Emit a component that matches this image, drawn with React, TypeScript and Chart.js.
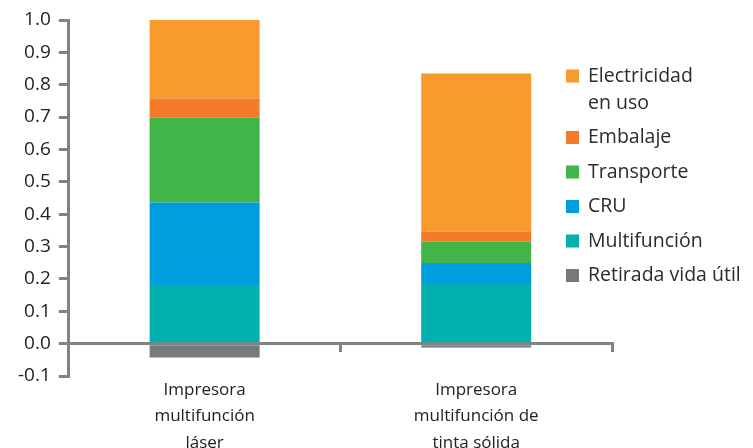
import React, { useEffect, useRef } from "react";
import { Chart, registerables } from "chart.js";

Chart.register(...registerables);

const categories = [
  ["Impresora", "multifunción", "láser"],
  ["Impresora", "multifunción de", "tinta sólida"],
];
const seriesNames = ["Retirada vida útil", "Multifunción", "CRU", "Transporte", "Embalaje", "Electricidad en uso"];
const legendLines = [["Retirada vida útil"], ["Multifunción"], ["CRU"], ["Transporte"], ["Embalaje"], ["Electricidad", "en uso"]];
const retirada = [-0.043, -0.012];
const multifuncion = [0.181, 0.187];
const cru = [0.255, 0.062];
const transporte = [0.262, 0.066];
const embalaje = [0.059, 0.031];
const electricidad = [0.246, 0.489];
const seriesColors = ["#767a7b", "#00b1b0", "#009ddf", "#42b549", "#f47b29", "#f89a2e"];
const yTickValues = [-0.1, 0, 0.1, 0.2, 0.3, 0.4, 0.5, 0.6, 0.7, 0.8, 0.9, 1.0];

const FONT = "'Open Sans', 'Noto Sans', sans-serif";
const AXIS = "#808383";

const legendPlugin = {
  id: "sideLegend",
  afterDraw(chart: any) {
    const ctx = chart.ctx;
    const area = chart.chartArea;
    const x0 = area.right - 46;
    let y = area.top + 56;
    ctx.save();
    ctx.font = `19.5px ${FONT}`;
    ctx.textBaseline = "middle";
    ctx.textAlign = "left";
    const n = chart.data.datasets.length;
    for (let i = n - 1; i >= 0; i--) {
      const ds = chart.data.datasets[i];
      const lines = legendLines[i];
      ctx.fillStyle = ds.backgroundColor;
      ctx.fillRect(x0, y - 6.5, 13, 13);
      ctx.fillStyle = "#2b2b2b";
      lines.forEach((t: string, k: number) => {
        ctx.fillText(t, x0 + 22, y + k * 27);
      });
      y += (lines.length - 1) * 27 + 34.5;
    }
    ctx.restore();
  },
};

export default function App() {
  const ref = useRef<HTMLCanvasElement>(null);
  useEffect(() => {
    if (!ref.current) return;
    const values = [retirada, multifuncion, cru, transporte, embalaje, electricidad];
    const chart = new Chart(ref.current, {
      type: "bar",
      data: {
        labels: categories,
        datasets: values.map((v, i) => ({
          label: seriesNames[i],
          data: v,
          backgroundColor: seriesColors[i],
          borderWidth: 0,
          barPercentage: 0.405,
          categoryPercentage: 1,
        })),
      },
      options: {
        responsive: false,
        animation: false,
        layout: { padding: { left: 10, right: 141, top: 20, bottom: 72 } },
        plugins: { legend: { display: false }, tooltip: { enabled: false } },
        scales: {
          x: {
            stacked: true,
            position: { y: 0 } as any,
            border: { display: true, color: AXIS, width: 3 },
            grid: {
              display: true,
              drawOnChartArea: false,
              drawTicks: true,
              tickLength: 7,
              tickWidth: 3,
              tickColor: AXIS,
              offset: true,
              color: AXIS,
              lineWidth: 3,
            },
            ticks: {
              padding: 27,
              color: "#222222",
              font: { family: FONT, size: 17, lineHeight: 1.53 },
              maxRotation: 0,
              autoSkip: false,
            },
          },
          y: {
            stacked: true,
            min: -0.1,
            max: 1.0,
            afterBuildTicks: (scale: any) => {
              scale.ticks = yTickValues.map((v) => ({ value: v }));
            },
            border: { display: true, color: AXIS, width: 3 },
            grid: {
              display: true,
              drawOnChartArea: false,
              drawTicks: true,
              tickLength: 10,
              tickWidth: 3,
              tickColor: AXIS,
              color: AXIS,
              lineWidth: 3,
            },
            ticks: {
              padding: 8,
              color: "#222222",
              font: { family: FONT, size: 19 },
              callback: (v: any) => Number(v).toFixed(1),
            },
          },
        },
      },
      plugins: [legendPlugin],
    });
    return () => chart.destroy();
  }, []);
  return (
    <div style={{ position: "fixed", left: 0, top: 0, width: 753, height: 448, background: "#fff" }}>
      <canvas ref={ref} width={753} height={448} />
    </div>
  );
}
